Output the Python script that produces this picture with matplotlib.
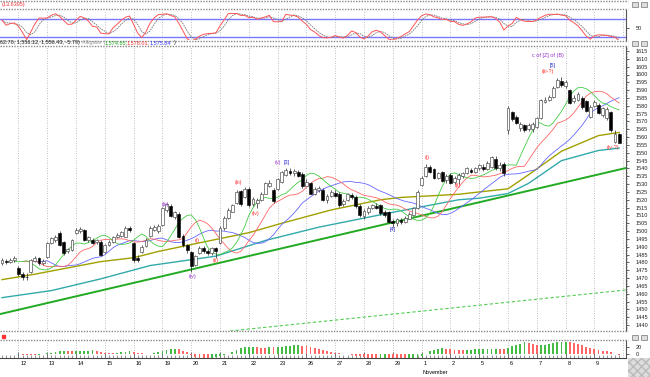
import numpy as np
import pandas as pd
import matplotlib
matplotlib.use("Agg")
import matplotlib.pyplot as plt
from matplotlib.lines import Line2D
from matplotlib.patches import Rectangle

plt.rcParams['font.family'] = ['Liberation Sans Narrow', 'Liberation Sans', 'DejaVu Sans']

# hourly bars, 7 per session; the first 4 belong to the session before the 12th
o = [1479.5, 1481.0, 1480.2, 1481.5,
     1476.5, 1472.5, 1471.0, 1474.0, 1481.0, 1482.5, 1479.5,
     1483.5, 1492.4, 1494.0, 1498.8, 1493.0, 1487.5, 1488.0,
     1498.8, 1500.0, 1500.7, 1494.0, 1494.3, 1493.0, 1493.0,
     1486.6, 1491.0, 1493.0, 1496.0, 1497.0, 1496.5, 1502.0,
     1492.4, 1483.0, 1486.6, 1490.5, 1497.0, 1500.5, 1500.0,
     1503.8, 1513.5, 1516.0, 1509.0, 1511.0, 1497.0, 1491.0,
     1486.6, 1478.5, 1486.0, 1489.5, 1487.0, 1486.0, 1489.0,
     1492.4, 1502.0, 1508.5, 1512.5, 1518.0, 1525.5, 1522.0,
     1527.0, 1517.0, 1518.0, 1520.0, 1524.0, 1529.0, 1526.0,
     1527.0, 1531.5, 1536.0, 1538.5, 1537.0, 1537.5, 1536.5,
     1529.0, 1530.5, 1524.0, 1526.0, 1526.5, 1520.0, 1522.5,
     1524.5, 1524.0, 1517.0, 1520.0, 1523.0, 1522.0, 1516.0,
     1509.5, 1512.0, 1515.0, 1516.0, 1516.5, 1512.0, 1512.0,
     1506.5, 1505.0, 1507.0, 1505.5, 1508.0, 1510.0, 1514.5,
     1529.5, 1535.0, 1541.0, 1539.5, 1534.0, 1537.5, 1532.5,
     1536.0, 1531.5, 1533.0, 1535.5, 1537.0, 1539.0, 1538.0,
     1540.0, 1541.0, 1539.5, 1541.0, 1546.0, 1540.0, 1543.0,
     1564.6, 1576.0, 1573.0, 1566.0, 1567.5, 1565.0, 1565.0,
     1566.5, 1572.0, 1582.5, 1584.0, 1585.5, 1592.0, 1596.0,
     1592.5, 1590.0, 1583.0, 1584.0, 1585.0, 1583.0, 1573.0,
     1580.0, 1580.5, 1574.0, 1572.0, 1576.0, 1557.0, 1562.2]
h = [1482.5, 1482.0, 1482.5, 1484.0,
     1477.5, 1474.0, 1473.0, 1482.0, 1484.0, 1483.5, 1482.0,
     1493.0, 1496.5, 1497.5, 1500.0, 1493.5, 1489.5, 1495.0,
     1502.0, 1502.5, 1501.5, 1497.0, 1495.5, 1495.0, 1494.0,
     1492.0, 1494.0, 1497.0, 1498.5, 1500.0, 1503.0, 1503.5,
     1493.0, 1484.5, 1491.0, 1495.5, 1503.0, 1504.0, 1504.5,
     1515.5, 1518.0, 1517.0, 1513.0, 1512.0, 1498.0, 1492.0,
     1487.0, 1485.0, 1490.5, 1490.5, 1488.5, 1490.0, 1490.0,
     1503.0, 1509.5, 1514.5, 1517.5, 1526.0, 1526.5, 1528.0,
     1528.0, 1521.5, 1521.0, 1525.0, 1531.5, 1532.5, 1527.5,
     1534.0, 1538.5, 1540.5, 1540.0, 1539.5, 1539.0, 1537.5,
     1533.0, 1531.5, 1528.0, 1528.5, 1527.5, 1523.5, 1526.5,
     1526.0, 1525.0, 1520.5, 1524.5, 1524.5, 1523.0, 1517.0,
     1514.0, 1516.0, 1517.5, 1518.0, 1517.0, 1513.5, 1513.0,
     1508.0, 1508.5, 1508.5, 1509.5, 1512.0, 1515.5, 1526.0,
     1535.0, 1543.0, 1542.0, 1540.5, 1538.0, 1538.5, 1536.5,
     1537.0, 1535.0, 1537.0, 1538.0, 1541.0, 1540.5, 1541.0,
     1543.0, 1543.0, 1544.5, 1548.0, 1548.0, 1544.0, 1544.0,
     1580.0, 1577.0, 1574.0, 1569.5, 1568.5, 1569.0, 1569.5,
     1573.0, 1584.5, 1585.5, 1587.0, 1592.5, 1598.0, 1598.5,
     1596.5, 1591.0, 1587.0, 1589.0, 1586.0, 1584.0, 1580.5,
     1583.5, 1581.5, 1579.5, 1579.5, 1577.0, 1564.5, 1562.7]
l = [1478.5, 1479.0, 1479.5, 1480.5,
     1471.5, 1469.0, 1468.5, 1473.0, 1480.0, 1478.5, 1478.5,
     1483.0, 1491.5, 1493.0, 1490.5, 1485.0, 1486.0, 1487.5,
     1498.0, 1499.0, 1493.5, 1493.0, 1491.5, 1492.0, 1484.0,
     1486.0, 1490.5, 1492.5, 1495.5, 1496.5, 1496.0, 1499.5,
     1480.5, 1480.0, 1486.0, 1490.0, 1496.5, 1500.0, 1499.0,
     1503.0, 1512.5, 1509.0, 1508.0, 1495.5, 1490.0, 1486.0,
     1474.0, 1477.5, 1485.5, 1486.0, 1485.0, 1485.0, 1483.0,
     1491.5, 1501.0, 1508.0, 1512.0, 1517.0, 1516.0, 1521.0,
     1515.5, 1516.0, 1515.0, 1519.0, 1523.5, 1528.0, 1518.0,
     1526.0, 1531.0, 1535.5, 1536.0, 1535.5, 1534.5, 1527.5,
     1528.5, 1523.5, 1523.0, 1525.0, 1519.0, 1518.0, 1522.0,
     1521.5, 1515.5, 1516.0, 1519.0, 1520.5, 1515.0, 1509.0,
     1508.0, 1511.0, 1514.0, 1514.0, 1510.0, 1509.0, 1505.0,
     1502.5, 1503.5, 1504.5, 1505.0, 1507.5, 1509.5, 1514.0,
     1528.5, 1534.5, 1537.0, 1533.0, 1533.5, 1531.5, 1531.0,
     1530.0, 1530.0, 1530.0, 1534.0, 1536.5, 1537.0, 1537.0,
     1539.0, 1538.5, 1539.0, 1540.5, 1539.0, 1538.5, 1535.0,
     1562.0, 1570.5, 1568.5, 1564.0, 1563.5, 1564.0, 1563.5,
     1566.0, 1571.5, 1581.5, 1583.0, 1585.0, 1591.5, 1592.0,
     1591.5, 1581.0, 1582.0, 1583.0, 1578.0, 1576.0, 1572.0,
     1579.0, 1574.5, 1573.0, 1571.0, 1563.5, 1556.0, 1556.1]
c = [1481.5, 1480.2, 1481.5, 1483.0,
     1472.5, 1471.0, 1470.5, 1481.5, 1483.0, 1479.5, 1481.0,
     1492.4, 1495.6, 1496.2, 1491.1, 1486.0, 1488.5, 1494.3,
     1500.7, 1501.5, 1494.3, 1496.2, 1492.5, 1494.0, 1484.7,
     1491.0, 1493.0, 1496.0, 1497.5, 1499.4, 1502.0, 1500.5,
     1481.5, 1481.8, 1490.0, 1494.5, 1502.0, 1502.5, 1503.0,
     1514.7, 1517.0, 1509.5, 1512.0, 1496.2, 1491.0, 1488.0,
     1478.0, 1484.0, 1489.5, 1487.0, 1486.0, 1489.0, 1487.5,
     1502.0, 1508.5, 1513.5, 1516.5, 1525.0, 1517.0, 1527.0,
     1516.5, 1520.5, 1520.0, 1524.0, 1530.5, 1531.0, 1519.0,
     1533.0, 1537.5, 1539.0, 1537.0, 1538.5, 1535.5, 1528.5,
     1531.5, 1524.0, 1527.0, 1527.5, 1520.0, 1522.5, 1525.0,
     1522.5, 1516.5, 1519.5, 1523.5, 1521.5, 1516.0, 1510.0,
     1513.0, 1515.0, 1516.5, 1515.0, 1511.5, 1510.0, 1506.0,
     1505.0, 1507.5, 1505.5, 1508.5, 1511.0, 1514.5, 1525.0,
     1534.0, 1541.0, 1538.0, 1534.0, 1537.0, 1532.0, 1535.5,
     1531.0, 1534.0, 1536.0, 1537.0, 1540.0, 1538.0, 1540.0,
     1542.0, 1539.5, 1543.5, 1547.0, 1540.0, 1542.0, 1537.0,
     1578.5, 1571.5, 1569.0, 1568.5, 1564.5, 1568.0, 1568.5,
     1572.0, 1583.5, 1584.0, 1585.5, 1591.5, 1596.5, 1593.0,
     1595.0, 1582.0, 1585.0, 1587.5, 1579.0, 1577.0, 1579.5,
     1582.5, 1575.5, 1578.5, 1578.0, 1564.5, 1562.2, 1556.4]

day_labels = ['12', '13', '14', '15', '16', '19', '20', '21', '22', '23', '26',
              '27', '28', '29', '1', '2', '5', '6', '7', '8', '9']
first_day_bar = 4
bars_per_day = 7

# slow averages (bar index, price)
olive_x = [0, 8, 16, 24, 32, 38, 48, 60, 68, 80, 92, 97, 111, 116, 123, 128, 136, 145, 150]
olive_y = [1469.0, 1472.5, 1476.5, 1480.5, 1483.0, 1487.0, 1492.5, 1499.0, 1505.0, 1513.5,
           1520.0, 1521.5, 1523.5, 1525.0, 1527.0, 1536.0, 1551.0, 1561.0, 1563.0]
teal_x = [0, 12, 24, 36, 52, 64, 77, 95, 111, 116, 123, 128, 136, 145, 150]
teal_y = [1457.5, 1462.0, 1469.5, 1478.0, 1484.0, 1494.0, 1502.5, 1512.0, 1520.0, 1521.0,
          1524.0, 1530.5, 1545.0, 1551.5, 1553.0]

# drawn trend lines
trend_x = [-0.5, 151.7]
trend_y = [1447.0, 1540.3]
chan_x = [55.4, 151.7]
chan_y = [1436.2, 1462.4]

# wave labels
wave_text = ['(iii)', '(iv)', '(i)', '(ii)', '(iii)', '(iv)', '(v)', '[3]', '[4]', '(i)', '(ii)',
             'c of [Z] of (B)', '[5]', '(iii-?)', '(iv-?)']
wave_x = [39.6, 46.2, 47.4, 52.0, 57.4, 61.7, 67.1, 69.3, 95.0, 103.3, 110.8, 132.7, 133.9, 132.7, 148.5]
wave_y = [1516.7, 1471.3, 1494.3, 1481.5, 1531.3, 1511.5, 1543.5, 1543.5, 1500.7, 1547.3, 1529.4,
          1612.4, 1606.0, 1601.6, 1553.7]
wave_col = ['#9933cc', '#9933cc', '#ff3333', '#ff3333', '#ff3333', '#ff3333', '#9933cc', '#3333cc',
            '#3333cc', '#ff3333', '#ff3333', '#9933cc', '#3333cc', '#ff3333', '#ff3333']

df = pd.DataFrame({'o': o, 'h': h, 'l': l, 'c': c})
n = len(df)
idx = np.arange(n)
med = (df.h + df.l) / 2

# alligator
jaw = med.rolling(13, min_periods=1).mean().shift(8)
teeth = med.rolling(8, min_periods=1).mean().shift(5)
lips = med.rolling(5, min_periods=1).mean().shift(3)

# awesome oscillator
ao = (med.rolling(5, min_periods=1).mean() - med.rolling(34, min_periods=1).mean()).values
ao_col = ['#44bb44' if i == 0 or ao[i] >= ao[i - 1] else '#ff6666' for i in range(n)]

# stochastic
ll = df.l.rolling(10, min_periods=1).min()
hh = df.h.rolling(10, min_periods=1).max()
k = ((df.c - ll) / (hh - ll) * 100).rolling(3, min_periods=1).mean()
d = k.rolling(3, min_periods=1).mean()

W, H = 650, 377


def rect(x0, y0, x1, y1):
    return [x0 / W, 1 - y1 / H, (x1 - x0) / W, (y1 - y0) / H]


fig = plt.figure(figsize=(6.5, 3.77), dpi=100)
fs = 4

xlim = (-0.49, 151.68)
grid_bars = [first_day_bar + bars_per_day * i for i in range(len(day_labels) + 1)]

ax_st = fig.add_axes(rect(0, 10, 626, 40))
ax = fig.add_axes(rect(0, 46, 626, 331))
ax_ao = fig.add_axes(rect(0, 340, 626, 358))

for a in (ax_st, ax, ax_ao):
    a.set_xlim(*xlim)
    for g in grid_bars:
        a.axvline(g, color='#aaaaaa', lw=0.6, ls=(0, (1, 2)), zorder=0)
    for s in ('top', 'left', 'bottom'):
        a.spines[s].set_visible(False)
    a.spines['right'].set_color('#555555')
    a.spines['right'].set_linewidth(0.8)
    a.yaxis.tick_right()
    a.tick_params(axis='y', labelsize=fs, length=2, width=0.5, pad=5, colors='#222222')
    a.set_xticks([])

# --- stochastic panel
ax_st.set_ylim(10, 109)
ax_st.axhline(80, color='#7777ff', lw=1.0, zorder=1)
ax_st.axhline(20, color='#7777ff', lw=1.0, zorder=1)
ax_st.plot(idx, d, color='#777777', lw=0.6, ls=(0, (2, 1)), zorder=2)
ax_st.plot(idx, k, color='#ff5555', lw=0.7, zorder=3)
ax_st.set_yticks([50])

# --- main price panel
ax.set_ylim(1436.2, 1618.2)
ax.set_yticks(np.arange(1440, 1616, 5))
ax.set_yticks(np.arange(1437, 1618, 1), minor=True)
ax.tick_params(axis='y', which='minor', length=1, width=0.4, colors='#555555')

ax.plot(trend_x, trend_y, color='#22aa22', lw=1.4, zorder=2)
ax.plot(chan_x, chan_y, color='#55cc55', lw=0.8, ls=(0, (3, 2)), zorder=2)
ax.plot(teal_x, teal_y, color='#33aaaa', lw=1.0, zorder=2)
ax.plot(olive_x, olive_y, color='#a0a000', lw=1.0, zorder=2)
ax.plot(idx, jaw, color='#6666ff', lw=0.6, zorder=2)
ax.plot(idx, teeth, color='#ff6666', lw=0.6, zorder=2)
ax.plot(idx, lips, color='#44cc44', lw=0.6, zorder=2)

oa, ca = df.o.values, df.c.values
up = ca >= oa
lo = np.minimum(oa, ca)
bh = np.maximum(np.abs(ca - oa), 0.5)
ax.vlines(idx, df.l, df.h, color='#222222', lw=0.5, zorder=3)
ax.bar(idx[up], bh[up], bottom=lo[up], width=0.7, color='white', edgecolor='#555555', lw=0.5, zorder=4)
ax.bar(idx[~up], bh[~up], bottom=lo[~up], width=0.7, color='black', edgecolor='black', lw=0.4, zorder=4)

for t, x, y, col in zip(wave_text, wave_x, wave_y, wave_col):
    ax.text(x, y, t, color=col, fontsize=fs, ha='center', va='center', zorder=5)

# --- awesome oscillator panel
ax_ao.set_ylim(-10, 40)
ax_ao.bar(idx, ao, width=0.45, color=ao_col, zorder=2)
ax_ao.set_yticks([0, 20])
ax_ao.set_xticks(idx, minor=True)
ax_ao.set_xticks(grid_bars[:-1])
ax_ao.set_xticklabels([])
ax_ao.tick_params(axis='x', which='major', length=4, width=0.5, colors='#444444', direction='in')
ax_ao.tick_params(axis='x', which='minor', length=2, width=0.4, colors='#444444', direction='in')
ax_ao.spines['bottom'].set_visible(True)
ax_ao.spines['bottom'].set_color('#444444')
ax_ao.spines['bottom'].set_linewidth(0.8)
tr = ax_ao.get_xaxis_transform()
for g, lab in zip(grid_bars, day_labels):
    ax_ao.text(g + 0.4, -0.33, lab, transform=tr, fontsize=fs, ha='left', va='center', clip_on=False)
ax_ao.text(grid_bars[day_labels.index('1')] + 0.2, -0.78, 'November', transform=tr, fontsize=fs,
           ha='left', va='center', clip_on=False)

# --- headers and panel separators
fig.text(2 / W, 1 - 4.5 / H, '(13.6395)', color='#ee3333', fontsize=fs, va='center')
hy = 1 - 42.5 / H
fig.text(0, hy, '62.70, 1,556.12, 1,556.43, -5.79)', color='#222222', fontsize=fs, va='center')
fig.text(82 / W, hy, 'Alligator (', color='#999999', fontsize=fs, va='center')
fig.text(105 / W, hy, '1,574.65,', color='#22aa22', fontsize=fs, va='center')
fig.text(127 / W, hy, '1,578.01,', color='#ff3333', fontsize=fs, va='center')
fig.text(150 / W, hy, '1,575.84', color='#3333ff', fontsize=fs, va='center')
fig.text(174 / W, hy, ')', color='#222222', fontsize=fs, va='center')
fig.add_artist(Rectangle((2 / W, 1 - 337.5 / H), 3 / W, 3 / H, transform=fig.transFigure,
                         color='#ff3333'))

for yp in (0.5, 9, 40.5, 45.5, 331, 339.5):
    fig.add_artist(Line2D([0, 628 / W], [1 - yp / H] * 2, transform=fig.transFigure,
                          color='#888888', lw=1.0, ls=(0, (1, 1))))
for yp in (2, 41, 335):
    for xp in (632, 641):
        fig.add_artist(Rectangle((xp / W, 1 - (yp + 5) / H), 6 / W, 5 / H, transform=fig.transFigure,
                                 facecolor='#dddddd', edgecolor='#555555', lw=0.4))
fig.add_artist(Rectangle((628 / W, 0), 22 / W, 19 / H, transform=fig.transFigure,
                         facecolor='#dddddd', edgecolor='#bbbbbb', hatch='xxxx', lw=0))

fig.savefig('out.png', dpi=100)
